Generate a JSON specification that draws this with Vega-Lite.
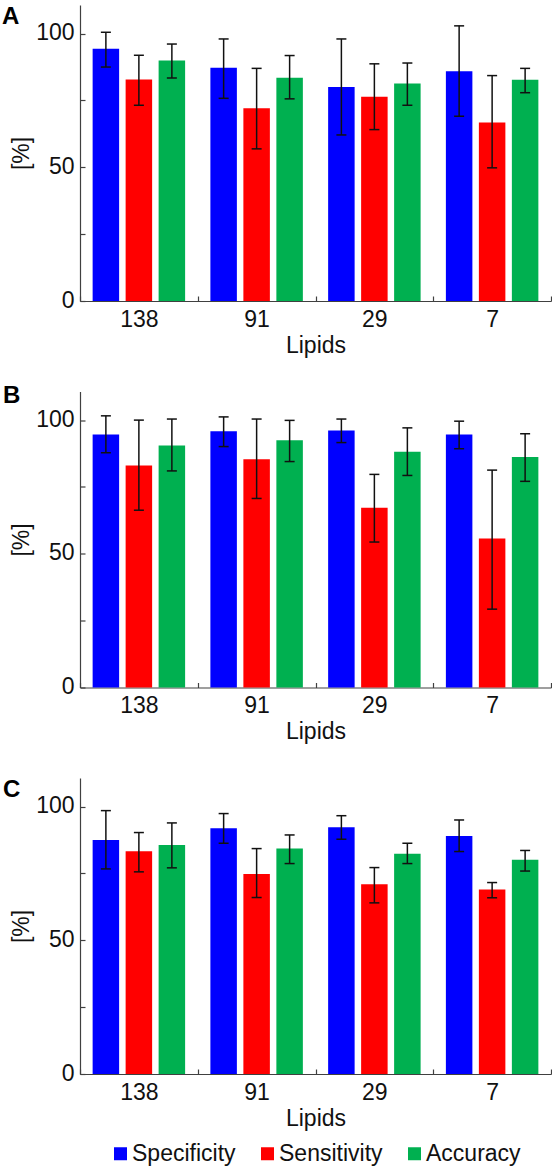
{
  "$schema": "https://vega.github.io/schema/vega-lite/v6.json",
  "padding": {"left": 2, "top": 5, "right": 0, "bottom": 0},
  "background": "white",
  "spacing": 90.5,
  "bounds": "flush",
  "config": {
    "view": {"stroke": null},
    "font": "Liberation Sans",
    "axis": {
      "grid": false,
      "domainColor": "#404040",
      "domainWidth": 1.2,
      "tickColor": "#404040",
      "tickWidth": 1.2,
      "tickSize": -5,
      "labelFont": "Liberation Sans",
      "titleFont": "Liberation Sans",
      "labelFontSize": 23,
      "titleFontSize": 23,
      "titleFontWeight": "normal",
      "labelColor": "#111",
      "titleColor": "#111"
    },
    "title": {"font": "Liberation Sans", "fontSize": 24, "fontWeight": "bold", "color": "#000", "anchor": "start", "frame": "group"}
  },
  "resolve": {"scale": {"color": "independent"}, "legend": {"color": "independent"}},
  "datasets": {
    "rows": [
      {"panel": "A", "lipids": "138", "metric": "Specificity", "value": 94.3, "lo": 87.5, "hi": 100.5},
      {"panel": "A", "lipids": "138", "metric": "Sensitivity", "value": 82.8, "lo": 73.2, "hi": 91.9},
      {"panel": "A", "lipids": "138", "metric": "Accuracy", "value": 89.9, "lo": 83.4, "hi": 96.1},
      {"panel": "A", "lipids": "91", "metric": "Specificity", "value": 87.2, "lo": 75.8, "hi": 98.0},
      {"panel": "A", "lipids": "91", "metric": "Sensitivity", "value": 72.1, "lo": 56.9, "hi": 87.0},
      {"panel": "A", "lipids": "91", "metric": "Accuracy", "value": 83.5, "lo": 75.6, "hi": 91.8},
      {"panel": "A", "lipids": "29", "metric": "Specificity", "value": 80.0, "lo": 62.1, "hi": 98.0},
      {"panel": "A", "lipids": "29", "metric": "Sensitivity", "value": 76.4, "lo": 64.1, "hi": 88.7},
      {"panel": "A", "lipids": "29", "metric": "Accuracy", "value": 81.3, "lo": 73.2, "hi": 89.0},
      {"panel": "A", "lipids": "7", "metric": "Specificity", "value": 85.9, "lo": 69.1, "hi": 102.9},
      {"panel": "A", "lipids": "7", "metric": "Sensitivity", "value": 66.8, "lo": 49.8, "hi": 84.3},
      {"panel": "A", "lipids": "7", "metric": "Accuracy", "value": 82.7, "lo": 77.9, "hi": 87.0},
      {"panel": "B", "lipids": "138", "metric": "Specificity", "value": 94.6, "lo": 87.8, "hi": 101.6},
      {"panel": "B", "lipids": "138", "metric": "Sensitivity", "value": 83.0, "lo": 66.3, "hi": 100.0},
      {"panel": "B", "lipids": "138", "metric": "Accuracy", "value": 90.5, "lo": 81.0, "hi": 100.4},
      {"panel": "B", "lipids": "91", "metric": "Specificity", "value": 95.8, "lo": 90.1, "hi": 101.2},
      {"panel": "B", "lipids": "91", "metric": "Sensitivity", "value": 85.4, "lo": 70.7, "hi": 100.4},
      {"panel": "B", "lipids": "91", "metric": "Accuracy", "value": 92.5, "lo": 84.5, "hi": 99.9},
      {"panel": "B", "lipids": "29", "metric": "Specificity", "value": 96.1, "lo": 91.6, "hi": 100.4},
      {"panel": "B", "lipids": "29", "metric": "Sensitivity", "value": 67.2, "lo": 54.4, "hi": 79.7},
      {"panel": "B", "lipids": "29", "metric": "Accuracy", "value": 88.2, "lo": 79.3, "hi": 97.1},
      {"panel": "B", "lipids": "7", "metric": "Specificity", "value": 94.6, "lo": 89.3, "hi": 99.6},
      {"panel": "B", "lipids": "7", "metric": "Sensitivity", "value": 55.7, "lo": 29.3, "hi": 81.3},
      {"panel": "B", "lipids": "7", "metric": "Accuracy", "value": 86.2, "lo": 77.1, "hi": 94.9},
      {"panel": "C", "lipids": "138", "metric": "Specificity", "value": 87.5, "lo": 76.7, "hi": 98.5},
      {"panel": "C", "lipids": "138", "metric": "Sensitivity", "value": 83.3, "lo": 75.6, "hi": 90.3},
      {"panel": "C", "lipids": "138", "metric": "Accuracy", "value": 85.6, "lo": 77.1, "hi": 93.9},
      {"panel": "C", "lipids": "91", "metric": "Specificity", "value": 91.9, "lo": 86.3, "hi": 97.4},
      {"panel": "C", "lipids": "91", "metric": "Sensitivity", "value": 74.8, "lo": 66.0, "hi": 84.3},
      {"panel": "C", "lipids": "91", "metric": "Accuracy", "value": 84.3, "lo": 78.7, "hi": 89.4},
      {"panel": "C", "lipids": "29", "metric": "Specificity", "value": 92.3, "lo": 87.8, "hi": 96.6},
      {"panel": "C", "lipids": "29", "metric": "Sensitivity", "value": 71.0, "lo": 64.0, "hi": 77.2},
      {"panel": "C", "lipids": "29", "metric": "Accuracy", "value": 82.4, "lo": 78.7, "hi": 86.3},
      {"panel": "C", "lipids": "7", "metric": "Specificity", "value": 89.0, "lo": 83.2, "hi": 95.0},
      {"panel": "C", "lipids": "7", "metric": "Sensitivity", "value": 69.0, "lo": 65.9, "hi": 71.6},
      {"panel": "C", "lipids": "7", "metric": "Accuracy", "value": 80.1, "lo": 75.9, "hi": 83.6}
    ]
  },
  "vconcat": [
    {
      "title": {"text": "A", "dx": -78, "offset": -24},
      "data": {"name": "rows"},
      "transform": [{"filter": "datum.panel === 'A'"}],
      "width": 471, "height": 296,
      "encoding": {
        "x": {"field": "lipids", "type": "nominal", "sort": ["138", "91", "29", "7"], "title": "Lipids",
              "scale": {"paddingInner": 0, "paddingOuter": 0},
              "axis": {"labelAngle": 0, "tickBand": "extent", "labelPadding": 12, "titlePadding": 3}},
        "xOffset": {"field": "metric", "sort": ["Specificity", "Sensitivity", "Accuracy"], "scale": {"paddingInner": 0.197, "paddingOuter": 0.383}}
      },
      "layer": [
        {"mark": {"type": "bar"},
         "encoding": {
           "y": {"field": "value", "type": "quantitative", "title": "[%]", "scale": {"domain": [0, 110.7], "nice": false},
                 "axis": {"values": [0, 25, 50, 75, 100], "labelExpr": "datum.value % 50 === 0 ? datum.label : ''", "labelPadding": 11, "labelOffset": -1, "titlePadding": 2}},
           "color": {"field": "metric", "type": "nominal", "sort": ["Specificity", "Sensitivity", "Accuracy"],
                     "scale": {"domain": ["Specificity", "Sensitivity", "Accuracy"], "range": ["#0000FF", "#FF0000", "#00B050"]}, "legend": null}
         }},
        {"mark": {"type": "rule", "color": "#111", "strokeWidth": 1.5},
         "encoding": {"y": {"field": "lo", "type": "quantitative"}, "y2": {"field": "hi"}}},
        {"mark": {"type": "tick", "orient": "horizontal", "size": 10, "thickness": 1.5, "color": "#111", "opacity": 1},
         "encoding": {"y": {"field": "lo", "type": "quantitative"}}},
        {"mark": {"type": "tick", "orient": "horizontal", "size": 10, "thickness": 1.5, "color": "#111", "opacity": 1},
         "encoding": {"y": {"field": "hi", "type": "quantitative"}}}
      ]
    },
    {
      "title": {"text": "B", "dx": -77, "offset": -16},
      "data": {"name": "rows"},
      "transform": [{"filter": "datum.panel === 'B'"}],
      "width": 471, "height": 296,
      "encoding": {
        "x": {"field": "lipids", "type": "nominal", "sort": ["138", "91", "29", "7"], "title": "Lipids",
              "scale": {"paddingInner": 0, "paddingOuter": 0},
              "axis": {"labelAngle": 0, "tickBand": "extent", "labelPadding": 12, "titlePadding": 3}},
        "xOffset": {"field": "metric", "sort": ["Specificity", "Sensitivity", "Accuracy"], "scale": {"paddingInner": 0.197, "paddingOuter": 0.383}}
      },
      "layer": [
        {"mark": {"type": "bar"},
         "encoding": {
           "y": {"field": "value", "type": "quantitative", "title": "[%]", "scale": {"domain": [0, 110.7], "nice": false},
                 "axis": {"values": [0, 25, 50, 75, 100], "labelExpr": "datum.value % 50 === 0 ? datum.label : ''", "labelPadding": 11, "labelOffset": -1, "titlePadding": 2}},
           "color": {"field": "metric", "type": "nominal", "sort": ["Specificity", "Sensitivity", "Accuracy"],
                     "scale": {"domain": ["Specificity", "Sensitivity", "Accuracy"], "range": ["#0000FF", "#FF0000", "#00B050"]}, "legend": null}
         }},
        {"mark": {"type": "rule", "color": "#111", "strokeWidth": 1.5},
         "encoding": {"y": {"field": "lo", "type": "quantitative"}, "y2": {"field": "hi"}}},
        {"mark": {"type": "tick", "orient": "horizontal", "size": 10, "thickness": 1.5, "color": "#111", "opacity": 1},
         "encoding": {"y": {"field": "lo", "type": "quantitative"}}},
        {"mark": {"type": "tick", "orient": "horizontal", "size": 10, "thickness": 1.5, "color": "#111", "opacity": 1},
         "encoding": {"y": {"field": "hi", "type": "quantitative"}}}
      ]
    },
    {
      "title": {"text": "C", "dx": -77, "offset": -24},
      "data": {"name": "rows"},
      "transform": [{"filter": "datum.panel === 'C'"}],
      "width": 471, "height": 296,
      "encoding": {
        "x": {"field": "lipids", "type": "nominal", "sort": ["138", "91", "29", "7"], "title": "Lipids",
              "scale": {"paddingInner": 0, "paddingOuter": 0},
              "axis": {"labelAngle": 0, "tickBand": "extent", "labelPadding": 12, "titlePadding": 3}},
        "xOffset": {"field": "metric", "sort": ["Specificity", "Sensitivity", "Accuracy"], "scale": {"paddingInner": 0.197, "paddingOuter": 0.383}}
      },
      "layer": [
        {"mark": {"type": "bar"},
         "encoding": {
           "y": {"field": "value", "type": "quantitative", "title": "[%]", "scale": {"domain": [0, 110.7], "nice": false},
                 "axis": {"values": [0, 25, 50, 75, 100], "labelExpr": "datum.value % 50 === 0 ? datum.label : ''", "labelPadding": 11, "labelOffset": -1, "titlePadding": 2}},
           "color": {"field": "metric", "type": "nominal", "sort": ["Specificity", "Sensitivity", "Accuracy"],
                     "scale": {"domain": ["Specificity", "Sensitivity", "Accuracy"], "range": ["#0000FF", "#FF0000", "#00B050"]},
                     "legend": {"orient": "none", "legendX": 29, "legendY": 364, "direction": "horizontal", "title": null,
                                "symbolType": "square", "symbolSize": 169, "symbolStrokeWidth": 0, "symbolOpacity": 1,
                                "labelFont": "Liberation Sans", "labelFontSize": 23, "labelColor": "#111", "labelOffset": 0,
                                "columnPadding": 20, "padding": 0}}
         }},
        {"mark": {"type": "rule", "color": "#111", "strokeWidth": 1.5},
         "encoding": {"y": {"field": "lo", "type": "quantitative"}, "y2": {"field": "hi"}}},
        {"mark": {"type": "tick", "orient": "horizontal", "size": 10, "thickness": 1.5, "color": "#111", "opacity": 1},
         "encoding": {"y": {"field": "lo", "type": "quantitative"}}},
        {"mark": {"type": "tick", "orient": "horizontal", "size": 10, "thickness": 1.5, "color": "#111", "opacity": 1},
         "encoding": {"y": {"field": "hi", "type": "quantitative"}}}
      ]
    }
  ]
}
